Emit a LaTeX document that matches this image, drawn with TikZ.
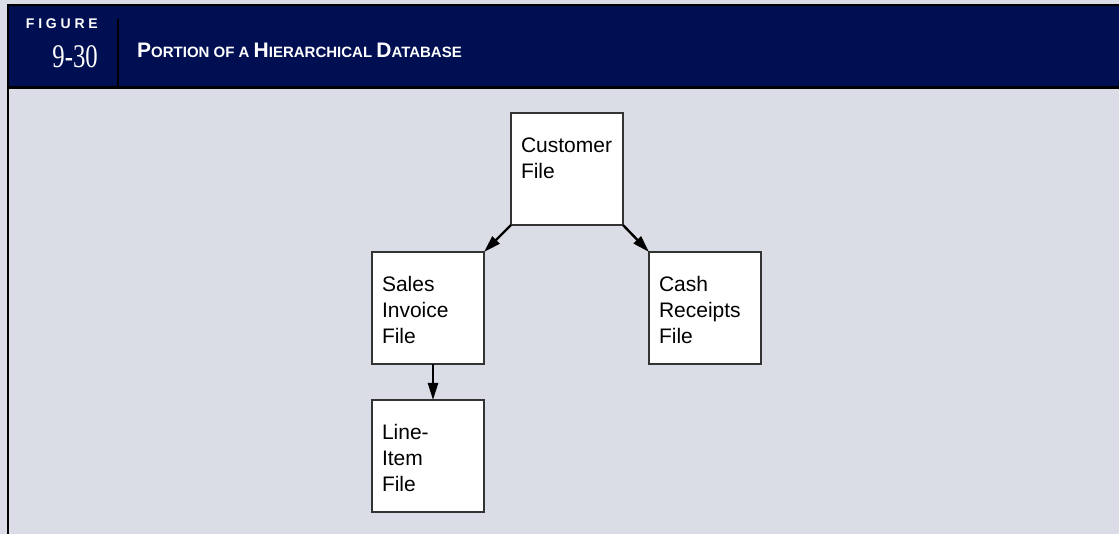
\documentclass[tikz,border=0pt]{standalone}
\usepackage{fontspec}
\usepackage{graphicx}
\usetikzlibrary{arrows.meta,positioning}
\setmainfont{Liberation Sans}
\newfontfamily\numfont{Liberation Serif}
\definecolor{navy}{HTML}{000E52}
\definecolor{paper}{HTML}{DADDE6}
\definecolor{edge}{HTML}{333333}
\newcommand{\bigsc}[1]{{\fontsize{21}{21}\selectfont #1}}

\begin{document}
\begin{tikzpicture}[x=1pt, y=-1pt,
  >={Triangle[length=17pt,width=10pt]},
  box/.style={draw=edge, line width=1.2pt, fill=white, align=left, text width=92pt, inner xsep=10pt, inner ysep=0pt,
    text height=39.5pt, text depth=72.5pt, minimum width=112pt, minimum height=112pt, outer sep=0pt,
    font=\fontsize{21}{26}\selectfont},
  arr/.style={->, draw=black, line width=2.4pt},
  rul/.style={draw=black, line width=2.4pt},
  hd/.style={text=white, inner sep=0pt}]
\fill[paper] (0,0) rectangle (1119,534);
\useasboundingbox (0,0) rectangle (1119,534);
% header band
\fill[navy] (8,5) rectangle (1119,87.5);
\draw[rul] (6.8,5) -- (1119,5);
\draw[rul] (8,5) -- (8,534);
\draw[rul] (8,87.5) -- (1119,87.5);
\draw[line width=2pt] (117.5,19) -- (117.5,87);
\node[hd, anchor=base east, font=\bfseries\fontsize{14}{14}\selectfont] (figlbl) at (98,29)
  {F\hspace{3.8pt}I\hspace{3.8pt}G\hspace{3.8pt}U\hspace{3.8pt}R\hspace{3.8pt}E};
\node[hd, anchor=base east] (fignum) at (98,68) {\scalebox{0.75}[1]{\numfont\fontsize{33}{33}\selectfont 9-30}};
\node[hd, anchor=base west, font=\bfseries\fontsize{15}{15}\selectfont] (title) at (137,58)
  {\bigsc{P}ORTION OF A \bigsc{H}IERARCHICAL \bigsc{D}ATABASE};
% records
\node[box] (cust) at (567,169) {Customer\\File};
\node[box, below left=27pt and 27pt of cust] (sinv) {Sales\\Invoice\\File};
\node[box, below right=27pt and 26pt of cust] (cash) {Cash\\Receipts\\File};
\node[box, below=36pt of sinv] (litem) {Line-\\Item\\File};
\draw[arr] (cust.south west) -- (sinv.north east);
\draw[arr] (cust.south east) -- (cash.north west);
\draw[arr] ([xshift=5pt]sinv.south) -- ([xshift=5pt]litem.north);
\end{tikzpicture}
\end{document}
